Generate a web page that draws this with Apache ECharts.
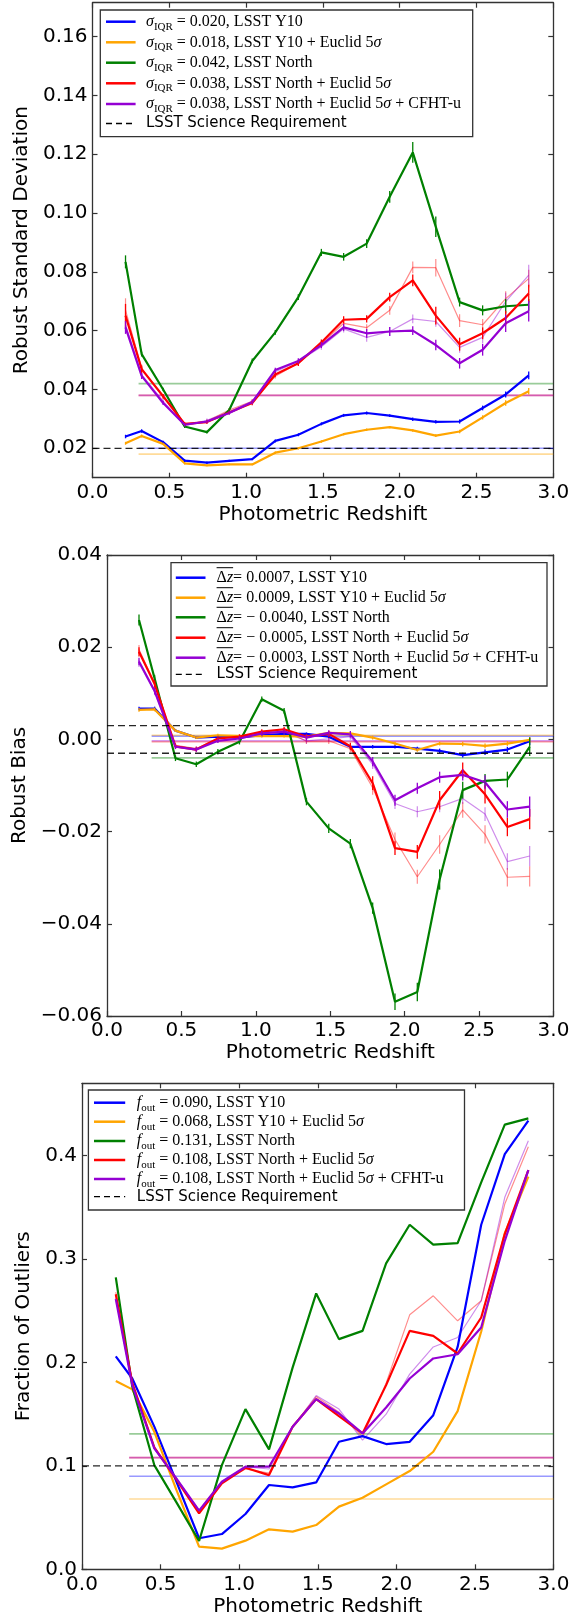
<!DOCTYPE html>
<html><head><meta charset="utf-8">
<script src="https://cdn.jsdelivr.net/npm/echarts@6/dist/echarts.min.js"></script>
<style>html,body{margin:0;padding:0;background:#fff;} #c{width:583px;height:1619px;}</style>
</head><body><div id="c"></div>
<script>
// ---------------- DATA ----------------
const zBins = [0.215, 0.32, 0.46, 0.6, 0.745, 0.89, 1.04, 1.19, 1.34, 1.49, 1.635, 1.785, 1.935, 2.085, 2.235, 2.39, 2.54, 2.69, 2.84];
const xTicks = [0, 0.5, 1, 1.5, 2, 2.5, 3];
const sigmaTicks = [0.02, 0.04, 0.06, 0.08, 0.10, 0.12, 0.14, 0.16];
const biasTicks = [-0.06, -0.04, -0.02, 0, 0.02, 0.04];
const foutTicks = [0, 0.1, 0.2, 0.3, 0.4];
const summarySpan = [0.3, 3.0];
const reqSpan = [0, 3.0];
const seriesNames = ['LSST Y10', 'LSST Y10 + Euclid 5σ', 'LSST North', 'LSST North + Euclid 5σ', 'LSST North + Euclid 5σ + CFHT-u'];

// Panel 1: robust standard deviation
const sigY10    = [0.0240,0.0259,0.0221,0.0158,0.0151,0.0157,0.0163,0.0225,0.0246,0.0283,0.0312,0.0320,0.0311,0.0299,0.0290,0.0291,0.0337,0.0383,0.0448];
const sigY10E   = [0.0217,0.0242,0.0215,0.0149,0.0142,0.0145,0.0145,0.0185,0.0200,0.0223,0.0248,0.0263,0.0272,0.0261,0.0243,0.0257,0.0305,0.0354,0.0394];
const sigN      = [0.0834,0.0520,0.0400,0.0274,0.0255,0.0330,0.0497,0.0594,0.0714,0.0866,0.0851,0.0896,0.1055,0.1206,0.0953,0.0697,0.0669,0.0683,0.0688];
const sigNE     = [0.0651,0.0469,0.0377,0.0283,0.0289,0.0322,0.0354,0.0451,0.0489,0.0560,0.0637,0.0640,0.0714,0.0771,0.0651,0.0554,0.0591,0.0643,0.0726];
const sigNEU    = [0.0611,0.0446,0.0354,0.0280,0.0291,0.0320,0.0357,0.0466,0.0497,0.0551,0.0611,0.0591,0.0597,0.0600,0.0551,0.0489,0.0535,0.0625,0.0666];
const sigNEalt  = [0.0670,0.0472,0.0375,0.0280,0.0292,0.0330,0.0360,0.0445,0.0490,0.0555,0.0625,0.0610,0.0669,0.0815,0.0814,0.0634,0.0620,0.0709,0.0777];
const sigNEUalt = [0.0620,0.0450,0.0360,0.0277,0.0295,0.0325,0.0360,0.0460,0.0495,0.0545,0.0606,0.0577,0.0597,0.0640,0.0631,0.0543,0.0577,0.0699,0.0789];
const sigErrY10  = [0.0006,0.0006,0.0005,0.0005,0.0004,0.0004,0.0004,0.0005,0.0005,0.0005,0.0005,0.0005,0.0005,0.0006,0.0006,0.0007,0.0008,0.0010,0.0013];
const sigErrY10E = [0.0005,0.0005,0.0004,0.0004,0.0003,0.0003,0.0003,0.0004,0.0004,0.0004,0.0004,0.0004,0.0004,0.0005,0.0005,0.0006,0.0007,0.0009,0.0011];
const sigErrN    = [0.0022,0.0008,0.0006,0.0005,0.0005,0.0006,0.0008,0.0008,0.0010,0.0012,0.0013,0.0015,0.0020,0.0035,0.0035,0.0015,0.0017,0.0025,0.0020];
const sigErrNE   = [0.0040,0.0012,0.0008,0.0006,0.0006,0.0006,0.0008,0.0008,0.0009,0.0010,0.0012,0.0012,0.0015,0.0020,0.0030,0.0022,0.0020,0.0025,0.0030];
const sigErrNEU  = [0.0022,0.0010,0.0007,0.0006,0.0006,0.0006,0.0007,0.0008,0.0009,0.0010,0.0012,0.0015,0.0015,0.0015,0.0018,0.0018,0.0020,0.0030,0.0035];
const sigmaSummary = [0.020, 0.018, 0.042, 0.038, 0.038];
const sigmaReq = [0.02];

// Panel 2: robust bias
const biasY10    = [0.0067,0.0067,0.0019,0.0004,0.0006,0.0004,0.0009,0.0012,0.0012,0.0006,-0.0016,-0.0016,-0.0016,-0.0020,-0.0025,-0.0034,-0.0028,-0.0022,-0.0004];
const biasY10E   = [0.0064,0.0065,0.0019,0.0004,0.0009,0.0007,0.0007,0.0007,0.0006,0.0014,0.0013,0.0004,-0.0009,-0.0023,-0.0009,-0.0010,-0.0014,-0.0009,-0.0001];
const biasN      = [0.0259,0.0132,-0.0041,-0.0054,-0.0027,-0.0005,0.0087,0.0062,-0.0135,-0.0193,-0.0226,-0.0366,-0.0569,-0.0548,-0.0304,-0.0110,-0.0090,-0.0087,-0.0016];
const biasNE     = [0.0190,0.0120,-0.0015,-0.0022,0.0002,0.0006,0.0017,0.0022,0.0006,0.0012,-0.0015,-0.0095,-0.0236,-0.0244,-0.0132,-0.0067,-0.0119,-0.0190,-0.0173];
const biasNEU    = [0.0169,0.0105,-0.0016,-0.0022,-0.0003,0.0002,0.0013,0.0017,0.0004,0.0014,0.0011,-0.0048,-0.0132,-0.0106,-0.0082,-0.0077,-0.0093,-0.0152,-0.0146];
const biasNEalt  = [0.0195,0.0122,-0.0013,-0.0020,0.0002,0.0006,0.0015,0.0020,-0.0004,-0.0003,-0.0020,-0.0105,-0.0217,-0.0298,-0.0228,-0.0153,-0.0206,-0.0299,-0.0297];
const biasNEUalt = [0.0165,0.0103,-0.0015,-0.0020,-0.0002,0.0002,0.0012,0.0015,-0.0003,0.0001,0.0006,-0.0054,-0.0139,-0.0157,-0.0146,-0.0128,-0.0162,-0.0265,-0.0253];
const biasErrY10  = [0.0004,0.0004,0.0003,0.0003,0.0003,0.0003,0.0003,0.0003,0.0003,0.0003,0.0004,0.0004,0.0004,0.0004,0.0005,0.0005,0.0006,0.0006,0.0008];
const biasErrY10E = [0.0004,0.0004,0.0003,0.0003,0.0003,0.0003,0.0003,0.0003,0.0003,0.0003,0.0003,0.0004,0.0004,0.0004,0.0004,0.0005,0.0005,0.0005,0.0006];
const biasErrN    = [0.0012,0.0008,0.0006,0.0006,0.0006,0.0006,0.0006,0.0006,0.0008,0.0010,0.0010,0.0012,0.0018,0.0020,0.0022,0.0018,0.0015,0.0017,0.0020];
const biasErrNE   = [0.0010,0.0008,0.0005,0.0005,0.0005,0.0005,0.0005,0.0005,0.0006,0.0007,0.0008,0.0015,0.0015,0.0015,0.0020,0.0017,0.0020,0.0020,0.0022];
const biasErrNEU  = [0.0008,0.0007,0.0005,0.0005,0.0005,0.0005,0.0005,0.0005,0.0006,0.0006,0.0007,0.0010,0.0012,0.0012,0.0012,0.0012,0.0015,0.0018,0.0022];
const biasSummary = [0.0007, 0.0009, -0.0040, -0.0005, -0.0003];
const biasReq = [0.003, -0.003];

// Panel 3: fraction of outliers
const foutY10    = [0.206,0.1845,0.138,0.085,0.030,0.0341,0.0535,0.0815,0.0792,0.084,0.1233,0.1288,0.1211,0.1233,0.149,0.215,0.3332,0.4016,0.4339];
const foutY10E   = [0.182,0.174,0.133,0.077,0.0219,0.020,0.0277,0.0387,0.0364,0.0428,0.0606,0.0692,0.0821,0.095,0.1137,0.153,0.230,0.325,0.3797];
const foutN      = [0.2823,0.1765,0.1008,0.065,0.0274,0.1008,0.1549,0.116,0.195,0.2668,0.2226,0.2306,0.2958,0.3332,0.3139,0.3155,0.3742,0.430,0.4361];
const foutNE     = [0.266,0.180,0.1179,0.087,0.0541,0.0831,0.0982,0.0911,0.1378,0.1646,0.1481,0.1314,0.1781,0.2306,0.2258,0.2087,0.2435,0.3242,0.3861];
const foutNEU    = [0.2613,0.178,0.117,0.088,0.0567,0.0847,0.0992,0.0992,0.1378,0.1646,0.1507,0.1314,0.1565,0.1845,0.2039,0.208,0.2339,0.3177,0.3861];
const foutNEalt  = [0.268,0.181,0.118,0.088,0.056,0.084,0.097,0.093,0.138,0.167,0.152,0.128,0.180,0.2461,0.2645,0.2403,0.2597,0.3532,0.4087];
const foutNEUalt = [0.262,0.179,0.117,0.088,0.057,0.085,0.099,0.097,0.137,0.168,0.155,0.125,0.150,0.1887,0.215,0.2242,0.2597,0.3597,0.4145];
const foutSummary = [0.090, 0.068, 0.131, 0.108, 0.108];
const foutReq = [0.1];

// ---------------- STYLE / LAYOUT ----------------
const colors = ['#0000ff', '#ffa500', '#008000', '#ff0000', '#9400d3'];
const axisColor = '#333';
const sansFont = 'DejaVu Sans';

const panels = [
  { grid: {left: 92.5, top: 2.7, width: 460.8, height: 475}, yMin: 0.01, yMax: 0.1715, ticks: sigmaTicks,
    fmt: v => v.toFixed(2), yName: 'Robust Standard Deviation', yGap: 51,
    main: [sigY10, sigY10E, sigN, sigNE, sigNEU], alt: [[3, sigNEalt], [4, sigNEUalt]],
    errs: [sigErrY10, sigErrY10E, sigErrN, sigErrNE, sigErrNEU],
    summary: sigmaSummary, req: sigmaReq, kind: 'sigma',
    legend: {x0: 100.3, y0: 10, x1: 472.7, y1: 136.7, rows: [21.7, 42.3, 62.7, 83.3, 104, 123.5], hx0: 106, hx1: 135.6, tx: 146} },
  { grid: {left: 107, top: 555, width: 446.5, height: 461}, yMin: -0.06, yMax: 0.04, ticks: biasTicks,
    fmt: v => (v < -1e-9 ? '\u2212' : '') + Math.abs(v).toFixed(2), yName: 'Robust Bias', yGap: 65,
    main: [biasY10, biasY10E, biasN, biasNE, biasNEU], alt: [[3, biasNEalt], [4, biasNEUalt]],
    errs: [biasErrY10, biasErrY10E, biasErrN, biasErrNE, biasErrNEU],
    summary: biasSummary, req: biasReq, kind: 'bias',
    legend: {x0: 171, y0: 562.7, x1: 547, y1: 686, rows: [577.7, 597.7, 617.3, 637.7, 657.7, 674.3], hx0: 175.8, hx1: 205.5, tx: 216.6} },
  { grid: {left: 82, top: 1083.3, width: 471.5, height: 486}, yMin: 0, yMax: 0.47, ticks: foutTicks,
    fmt: v => v.toFixed(1), yName: 'Fraction of Outliers', yGap: 41,
    main: [foutY10, foutY10E, foutN, foutNE, foutNEU], alt: [[3, foutNEalt], [4, foutNEUalt]],
    errs: null,
    summary: foutSummary, req: foutReq, kind: 'fout',
    legend: {x0: 88.4, y0: 1090, x1: 464.5, y1: 1210, rows: [1102.7, 1121.7, 1141, 1160, 1179, 1196.7], hx0: 94, hx1: 125.2, tx: 136.8} }
];

const grids = [], xAxes = [], yAxes = [], series = [], graphics = [];
const lineAx = {show: true, onZero: false, lineStyle: {color: axisColor, width: 1.3}};
const tickSt = {color: axisColor, width: 1.2};

function errSeries(xi, yi, pts, color, opacity, width) {
  return {
    type: 'custom', xAxisIndex: xi, yAxisIndex: yi, silent: true, z: 4,
    data: pts, encode: {x: 0, y: 1},
    renderItem: (params, api) => {
      const x = api.value(0), y = api.value(1), e = api.value(2);
      const p1 = api.coord([x, y - e]), p2 = api.coord([x, y + e]);
      return {type: 'line', shape: {x1: p1[0], y1: p1[1], x2: p2[0], y2: p2[1]},
              style: {stroke: color, lineWidth: width, opacity: opacity}};
    }
  };
}

panels.forEach((P, g) => {
  grids.push(Object.assign({show: false, outerBoundsMode: 'none', containLabel: false}, P.grid));
  const xi = 2 * g, yi = 2 * g;
  xAxes.push({type: 'value', gridIndex: g, min: 0, max: 3, position: 'bottom',
    axisLine: lineAx, splitLine: {show: false},
    axisTick: {show: true, inside: true, length: 5, customValues: xTicks, lineStyle: tickSt},
    axisLabel: {show: true, customValues: xTicks, formatter: v => v.toFixed(1), fontFamily: sansFont, fontSize: 20, color: '#000', margin: 5},
    name: 'Photometric Redshift', nameLocation: 'middle', nameGap: 27,
    nameTextStyle: {fontFamily: sansFont, fontSize: 20, color: '#000'}});
  xAxes.push({type: 'value', gridIndex: g, min: 0, max: 3, position: 'top',
    axisLine: lineAx, splitLine: {show: false},
    axisTick: {show: true, inside: true, length: 5, customValues: xTicks, lineStyle: tickSt},
    axisLabel: {show: false}});
  yAxes.push({type: 'value', gridIndex: g, min: P.yMin, max: P.yMax, position: 'left',
    axisLine: lineAx, splitLine: {show: false},
    axisTick: {show: true, inside: true, length: 5, customValues: P.ticks, lineStyle: tickSt},
    axisLabel: {show: true, customValues: P.ticks, formatter: P.fmt, fontFamily: sansFont, fontSize: 20, color: '#000', margin: 5},
    name: P.yName, nameLocation: 'middle', nameGap: P.yGap,
    nameTextStyle: {fontFamily: sansFont, fontSize: 20, color: '#000'}});
  yAxes.push({type: 'value', gridIndex: g, min: P.yMin, max: P.yMax, position: 'right',
    axisLine: lineAx, splitLine: {show: false},
    axisTick: {show: true, inside: true, length: 5, customValues: P.ticks, lineStyle: tickSt},
    axisLabel: {show: false}});

  // summary horizontal lines
  P.summary.forEach((v, k) => {
    series.push({type: 'line', xAxisIndex: xi, yAxisIndex: yi, silent: true, symbol: 'none', z: 1,
      data: [[summarySpan[0], v], [summarySpan[1], v]],
      lineStyle: {color: colors[k], width: 1.6, opacity: 0.4}});
  });
  // thin alternative lines
  P.alt.forEach(([k, arr]) => {
    series.push({type: 'line', xAxisIndex: xi, yAxisIndex: yi, silent: true, symbol: 'none', z: 2,
      data: zBins.map((x, i) => [x, arr[i]]),
      lineStyle: {color: colors[k], width: 1.2, opacity: 0.45}});
    if (P.errs) series.push(errSeries(xi, yi, zBins.map((x, i) => [x, arr[i], P.errs[k][i]]), colors[k], 0.45, 1.2));
  });
  // main lines
  P.main.forEach((arr, k) => {
    series.push({type: 'line', xAxisIndex: xi, yAxisIndex: yi, silent: true, symbol: 'none', z: 3,
      name: seriesNames[k], data: zBins.map((x, i) => [x, arr[i]]),
      lineStyle: {color: colors[k], width: 2.2}});
    if (P.errs) series.push(errSeries(xi, yi, zBins.map((x, i) => [x, arr[i], P.errs[k][i]]), colors[k], 1, 1.3));
  });
  // requirement dashed lines
  P.req.forEach(v => {
    series.push({type: 'line', xAxisIndex: xi, yAxisIndex: yi, silent: true, symbol: 'none', z: 5,
      data: [[reqSpan[0], v], [reqSpan[1], v]],
      lineStyle: {color: '#000', width: 1.3, type: [7, 4], opacity: 0.85}});
  });
});

// ---------------- LEGENDS ----------------
const mctx = document.createElement('canvas').getContext('2d');
function measure(t, font) { mctx.font = font; return mctx.measureText(t).width; }
const FS = 16;
const fonts = {
  r:   {font: FS + 'px "Liberation Serif"', dy: 0},
  i:   {font: 'italic ' + FS + 'px "Liberation Serif"', dy: 0},
  sub: {font: '11px "Liberation Serif"', dy: 5},
  sans:{font: '15px "DejaVu Sans"', dy: 0}
};
const nameSegs = [
  [['LSST Y10', 'r']],
  [['LSST Y10 + Euclid 5', 'r'], ['\u03c3', 'i']],
  [['LSST North', 'r']],
  [['LSST North + Euclid 5', 'r'], ['\u03c3', 'i']],
  [['LSST North + Euclid 5', 'r'], ['\u03c3', 'i'], [' + CFHT-u', 'r']]
];
function prefixSegs(kind, v) {
  if (kind === 'sigma') return [['\u03c3', 'i'], ['IQR', 'sub'], [' = ' + v.toFixed(3) + ', ', 'r']];
  if (kind === 'fout') return [['f', 'i'], ['out', 'sub'], [' = ' + v.toFixed(3) + ', ', 'r']];
  return [['\u0394', 'r'], ['z', 'i'], ['= ' + (v < 0 ? '\u2212 ' : '') + Math.abs(v).toFixed(4) + ', ', 'r']];
}
panels.forEach(P => {
  const L = P.legend;
  graphics.push({type: 'rect', z: 100, shape: {x: L.x0, y: L.y0, width: L.x1 - L.x0, height: L.y1 - L.y0},
    style: {fill: '#fff', stroke: '#333', lineWidth: 1.3}});
  const rows = P.summary.map((v, k) => prefixSegs(P.kind, v).concat(nameSegs[k]));
  rows.push([['LSST Science Requirement', 'sans']]);
  rows.forEach((segs, r) => {
    const y = L.rows[r];
    const isReq = r === 5;
    graphics.push({type: 'line', z: 101, shape: {x1: L.hx0, y1: y, x2: L.hx1, y2: y},
      style: isReq ? {stroke: '#000', lineWidth: 1.3, lineDash: [6, 4]} : {stroke: colors[r], lineWidth: 2.5}});
    let x = L.tx;
    segs.forEach(([t, k], si) => {
      const f = fonts[k];
      graphics.push({type: 'text', z: 101, x: x, y: y + f.dy,
        style: {text: t, font: f.font, fill: '#000', align: 'left', verticalAlign: 'middle', textAlign: 'left', textVerticalAlign: 'middle'}});
      const w = measure(t, f.font);
      if (P.kind === 'bias' && !isReq && si === 1) {
        graphics.push({type: 'line', z: 101, shape: {x1: L.tx, y1: y - 10, x2: x + w, y2: y - 10},
          style: {stroke: '#000', lineWidth: 1}});
      }
      x += w;
    });
  });
});

const chart = echarts.init(document.getElementById('c'), null, {renderer: 'canvas'});
chart.setOption({
  animation: false,
  backgroundColor: '#fff',
  grid: grids, xAxis: xAxes, yAxis: yAxes, series: series,
  graphic: {elements: graphics}
});
</script></body></html>
